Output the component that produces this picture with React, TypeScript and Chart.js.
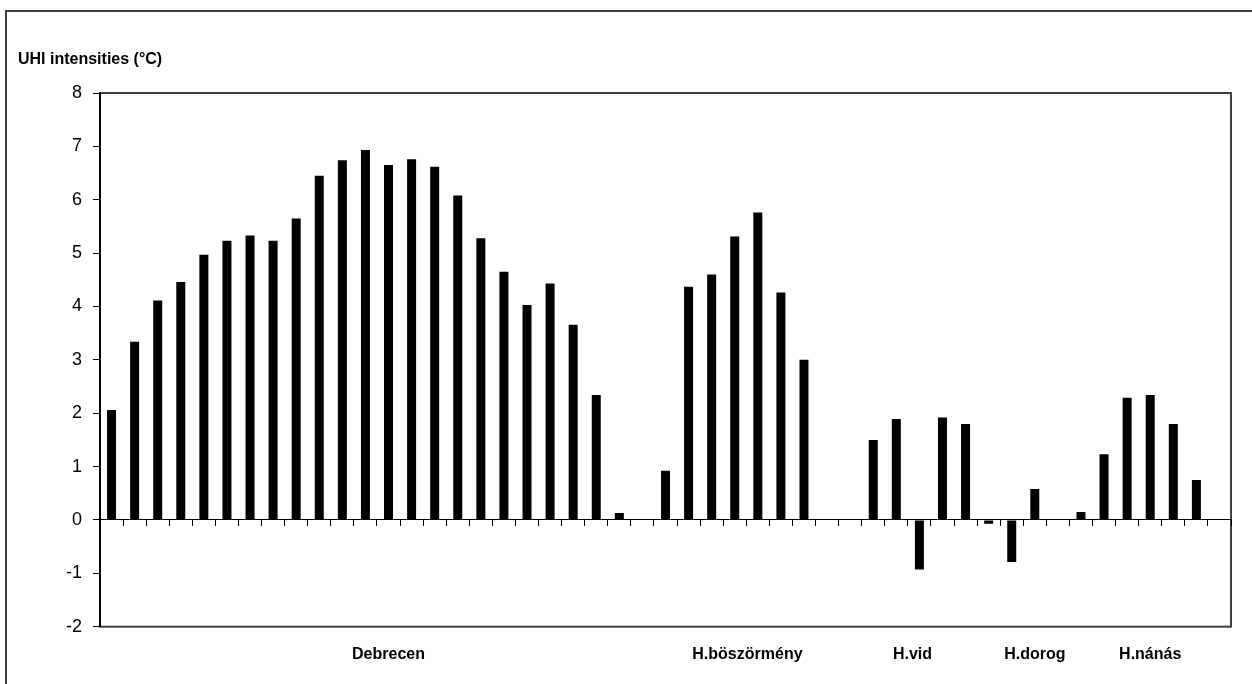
import React, { useEffect, useRef } from 'react';
import { Chart, registerables } from 'chart.js';

Chart.register(...registerables);

// UHI intensity values (°C), one array per town
const debrecen = [2.06, 3.34, 4.11, 4.46, 4.97, 5.23, 5.33, 5.23, 5.65, 6.45, 6.74, 6.93, 6.65, 6.76, 6.62, 6.08, 5.28, 4.65, 4.03, 4.43, 3.66, 2.34, 0.13];
const hboszormeny = [0.92, 4.37, 4.6, 5.31, 5.76, 4.26, 3.0];
const hvid = [1.5, 1.89, -0.93, 1.92, 1.8];
const hdorog = [-0.07, -0.79, 0.58];
const hnanas = [0.15, 1.23, 2.29, 2.34, 1.8, 0.75];

// full category sequence (empty categories separate the groups)
const values: (number | null)[] = [
  ...debrecen, null,
  ...hboszormeny, null, null,
  ...hvid,
  ...hdorog, null,
  ...hnanas, null,
];
const categories = values.map((_, i) => String(i + 1));

// group labels on the category axis and the category index each is anchored at
const groupLabels = ['Debrecen', 'H.böszörmény', 'H.vid', 'H.dorog', 'H.nánás'];
const groupLabelAt = [12, 27.55, 34.7, 40, 45];

const yMin = -2;
const yMax = 8;
const yStep = 1;

const FONT = 'Arial, "Liberation Sans", sans-serif';

const framePlugin = {
  id: 'frame',
  beforeDraw(chart: any) {
    const { ctx, chartArea: a } = chart;
    ctx.save();
    ctx.strokeStyle = '#404040';
    ctx.lineWidth = 2;
    ctx.strokeRect(6, 11, 1400, 1000);
    ctx.strokeRect(a.left, a.top, a.right - a.left, a.bottom - a.top);
    ctx.restore();
  },
};

export default function App() {
  const ref = useRef<HTMLCanvasElement | null>(null);

  useEffect(() => {
    if (!ref.current) return;
    const chart = new Chart(ref.current, {
      type: 'bar',
      data: {
        labels: categories,
        datasets: [
          {
            label: 'UHI intensities (°C)',
            data: values,
            backgroundColor: '#000000',
            borderWidth: 0,
            barPercentage: 0.39,
            categoryPercentage: 1.0,
            xAxisID: 'x',
            yAxisID: 'y',
          },
        ],
      },
      options: {
        animation: false,
        responsive: false,
        devicePixelRatio: 1,
        layout: { padding: { left: 18, right: 21, top: 0, bottom: 0 } },
        plugins: {
          legend: { display: false },
          tooltip: { enabled: false },
          title: {
            display: true,
            text: 'UHI intensities (°C)',
            align: 'start',
            color: '#000',
            font: { family: FONT, size: 16, weight: 'bold' },
            padding: { top: 50, bottom: 23.8 },
          },
        },
        scales: {
          x: {
            type: 'category',
            position: { y: 0 } as any,
            offset: true,
            grid: { offset: true, drawOnChartArea: false, drawTicks: true, tickLength: 6, color: '#000', lineWidth: 1 },
            border: { display: true, color: '#000', width: 1 },
            ticks: { display: false },
          },
          xg: {
            type: 'linear',
            position: 'bottom',
            min: -0.5,
            max: 48.5,
            bounds: 'data',
            offset: false,
            grid: { display: false, drawTicks: false, offset: false },
            border: { display: false },
            afterBuildTicks: (s: any) => {
              s.ticks = groupLabelAt.map((v) => ({ value: v }));
            },
            afterFit: (s: any) => {
              s.height = 57.3;
            },
            ticks: {
              autoSkip: false,
              maxRotation: 0,
              minRotation: 0,
              padding: 18,
              color: '#000',
              font: { family: FONT, size: 16, weight: 'bold' },
              callback: (_v: any, i: number) => groupLabels[i],
            },
          },
          y: {
            type: 'linear',
            min: yMin,
            max: yMax,
            afterFit: (s: any) => {
              s.width = 82;
            },
            ticks: {
              stepSize: yStep,
              padding: 11,
              color: '#000',
              font: { family: FONT, size: 18 },
            },
            grid: { drawOnChartArea: false, drawTicks: true, tickLength: 7, color: '#000', lineWidth: 1 },
            border: { display: true, color: '#000', width: 2 },
          },
        },
      },
      plugins: [framePlugin],
    } as any);
    return () => chart.destroy();
  }, []);

  return (
    <div style={{ position: 'absolute', left: 0, top: 0, width: 1252, height: 684, background: '#fff' }}>
      <canvas ref={ref} width={1252} height={684} style={{ display: 'block' }} />
    </div>
  );
}
